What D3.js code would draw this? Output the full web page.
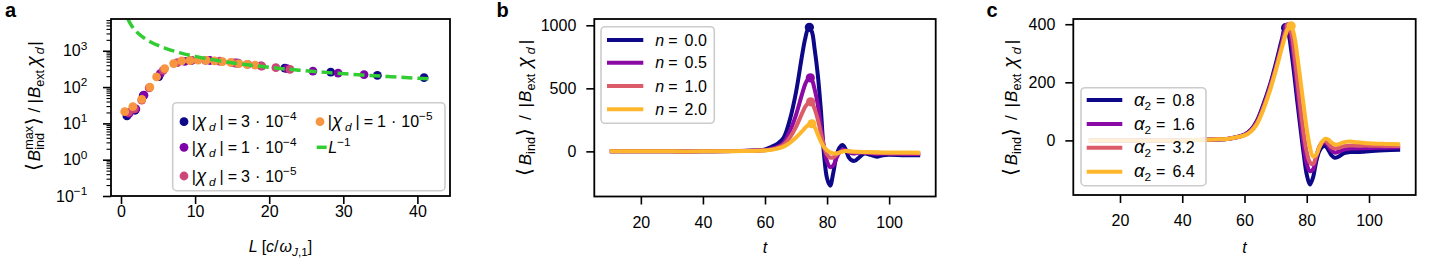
<!DOCTYPE html>
<html>
<head>
<meta charset="utf-8">
<script src="https://cdn.jsdelivr.net/npm/d3@7"></script>
<style>
  body { margin: 0; background: #fff; }
  text { font-family: "Liberation Sans", Arial, Helvetica, sans-serif; fill: #000; }
</style>
</head>
<body>
<svg id="fig" width="1442" height="275"></svg>
<script>
// ---------- panel a : peak field vs L ----------
const chiMant = ['3', '1', '3', '1'];
const chiExp = ['−4', '−4', '−5', '−5'];
const chiColors = ['#0d0887', '#7e03a8', '#cc4778', '#f89540'];

const L_3e4 = [0.8, 1.9, 3.0, 5.1, 9.5, 15.8, 22.1, 28.3, 34.6, 40.9];
const B_3e4 = [16, 23, 58, 195, 545, 455, 334, 259, 210, 181];
const L_1e4 = [1.1, 2.0, 3.1, 5.3, 8.6, 12.0, 15.5, 18.9, 22.4, 25.9, 29.3, 32.8];
const B_1e4 = [19, 25, 60, 235, 510, 540, 460, 385, 322, 276, 243, 219];
const L_3e5 = [1.0, 1.8, 2.8, 3.8, 5.7, 7.6, 9.5, 11.4, 13.3, 15.2, 17.1, 19.0, 20.9, 22.8];
const B_3e5 = [20, 25, 44, 95, 290, 470, 545, 545, 515, 465, 420, 380, 342, 308];
const L_1e5 = [0.5, 1.6, 2.8, 3.9, 4.8, 5.9, 7.1, 8.2, 9.3, 10.4, 11.5, 12.6, 13.7, 14.8, 15.9, 17.0, 18.1];
const B_1e5 = [21, 29, 46, 100, 190, 324, 445, 525, 540, 550, 545, 530, 505, 475, 445, 420, 400];
const chiL = [L_3e4, L_1e4, L_3e5, L_1e5];
const chiB = [B_3e4, B_1e4, B_3e5, B_1e5];

// L^-1 guide
const guideL = [0.9, 1.0, 1.2, 1.5, 2, 2.5, 3, 4, 5, 6, 8, 10, 12, 14, 17, 20, 24, 28, 32, 36, 41.5];
const guideB = [7800, 7000, 5830, 4670, 3500, 2800, 2330, 1750, 1400, 1170, 875, 700, 583, 500, 412, 350, 292, 250, 219, 195, 169];

const xTicksA = [0, 10, 20, 30, 40];
const yExpA = [-1, 0, 1, 2, 3];

// ---------- panels b, c : time traces ----------
const tGrid = [10, 20, 30, 40, 50, 55, 60, 62, 64, 66, 68, 70, 72, 73, 74, 75, 76, 77, 78, 79,
  80, 81, 82, 83, 84, 85, 86, 87, 88, 89, 90, 92, 94, 96, 98, 100, 105, 110];

const nLabels = ['0.0', '0.5', '1.0', '2.0'];
const nColors = ['#0d0887', '#8b0aa5', '#db5c68', '#feb72d'];
const b_n00 = [0, 0, 0, 0, 2, 5, 15, 35, 60, 108, 250, 470, 770, 900, 978, 955, 810, 610, 330, -20,
  -215, -272, -170, -40, 30, 50, 15, -48, -72, -74, -55, -18, -28, -42, -30, -26, -30, -30];
const b_n05 = [0, 0, 0, 0, 2, 4, 11, 20, 36, 68, 160, 290, 460, 535, 578, 570, 490, 370, 200, 35,
  -80, -125, -112, -55, -8, 14, 8, -6, -15, -16, -12, -8, -14, -20, -18, -18, -20, -20];
const b_n10 = [0, 0, 0, 0, 2, 4, 9, 16, 28, 52, 110, 195, 305, 355, 385, 388, 335, 255, 145, 40,
  -25, -50, -48, -28, -8, 4, 5, 0, -4, -6, -6, -8, -10, -12, -13, -14, -15, -15];
const b_n20 = [0, 0, 0, 0, 1, 3, 7, 12, 22, 38, 68, 110, 160, 188, 210, 218, 192, 135, 78, 35,
  8, -8, -16, -17, -10, -2, 2, 1, -1, -3, -4, -5, -6, -7, -8, -8, -9, -10];
const bSeries = [b_n00, b_n05, b_n10, b_n20];
const bPeakT = [74.3, 74.6, 74.7, 75.1];
const bPeakV = [984, 583, 393, 219];

const aLabels = ['0.8', '1.6', '3.2', '6.4'];
const c_a08 = [0, 0, 0, 0, 3, 6, 20, 36, 68, 122, 185, 262, 348, 386, 372, 310, 225, 130, 40, -45,
  -118, -152, -128, -75, -38, -22, -20, -34, -52, -60, -57, -44, -40, -40, -39, -37, -34, -32];
const c_a16 = [0, 0, 0, 0, 3, 6, 19, 34, 64, 116, 178, 252, 336, 378, 386, 345, 262, 165, 70, -15,
  -80, -106, -100, -60, -25, -10, -8, -20, -35, -42, -40, -32, -28, -28, -27, -26, -25, -24];
const c_a32 = [0, 0, 0, 0, 3, 6, 18, 32, 60, 110, 172, 245, 326, 368, 390, 372, 300, 205, 110, 25,
  -40, -75, -82, -55, -22, -4, -2, -12, -24, -28, -26, -20, -18, -18, -18, -18, -19, -19];
const c_a64 = [0, 0, 0, 0, 3, 6, 17, 30, 56, 104, 165, 238, 318, 356, 385, 392, 360, 288, 205, 122,
  40, -22, -55, -50, -25, -4, 6, 2, -8, -14, -14, -6, -4, -6, -8, -10, -12, -13];
const cSeries = [c_a08, c_a16, c_a32, c_a64];
const cPeakT = [73.2, 73.8, 74.4, 75.0];
const cPeakV = [388, 390, 392, 394];

const tTicks = [20, 40, 60, 80, 100];
const yTicksB = [0, 500, 1000];
const yTicksC = [0, 200, 400];

const FS = 16;    // ticks and legends
const LFS = 17;   // axis labels
const svg = d3.select('#fig');

// text built from pieces: [string, kind, gapAfter]
// kinds: rm, it, gr (greek italic), sub, subit, sup, suphold (sup that a following sub stacks under), br
function richText (parent, pieces, fs) {
  const g = parent.append('g');
  let x = 0;
  let held = null;
  pieces.forEach(([s, kind, gap]) => {
    const small = /sub|sup/.test(kind);
    let size = small ? fs * 0.74 : fs;
    if (kind === 'gr') size = fs * 1.15;
    if (kind === 'br') size = fs * 1.2;
    const t = g.append('text')
      .attr('x', x)
      .attr('y', /sub/.test(kind) ? fs * 0.26 : /sup/.test(kind) ? -fs * 0.42 : 0)
      .attr('font-size', size)
      .attr('font-style', /it|gr/.test(kind) ? 'italic' : 'normal')
      .text(s);
    if (kind === 'br') t.style('font-family', '"DejaVu Sans", sans-serif').attr('font-weight', 200);
    const w = t.node().getComputedTextLength();
    if (kind === 'suphold') { held = w; return; }
    if (held !== null) { x += Math.max(w, held); held = null; } else { x += w; }
    x += gap || 0;
  });
  return { g, width: x };
}

function frame (g, box) {
  g.append('rect')
    .attr('x', box.l).attr('y', box.t)
    .attr('width', box.r - box.l).attr('height', box.b - box.t)
    .attr('fill', 'none').attr('stroke', '#000').attr('stroke-width', 1.8);
}

function clip (g, box, id) {
  g.append('clipPath').attr('id', id)
    .append('rect')
    .attr('x', box.l).attr('y', box.t)
    .attr('width', box.r - box.l).attr('height', box.b - box.t);
  return g.append('g').attr('clip-path', `url(#${id})`);
}

function styleAxis (ax, width) {
  ax.select('.domain').remove();
  ax.selectAll('line').attr('stroke', '#000').attr('stroke-width', width);
  ax.selectAll('text').attr('font-size', FS).attr('font-family', null).attr('fill', '#000');
}

function xAxis (g, scale, box, ticks, pad) {
  const ax = g.append('g')
    .attr('transform', `translate(0,${box.b})`)
    .call(d3.axisBottom(scale).tickValues(ticks).tickSize(8).tickSizeOuter(0)
      .tickPadding(pad).tickFormat(d3.format('d')));
  styleAxis(ax, 1.6);
}

function yAxis (g, scale, box, ticks) {
  const ax = g.append('g')
    .attr('transform', `translate(${box.l},0)`)
    .call(d3.axisLeft(scale).tickValues(ticks).tickSize(8).tickSizeOuter(0)
      .tickPadding(10).tickFormat(d3.format('d')));
  styleAxis(ax, 1.6);
}

function yLabel (g, pieces, x, y) {
  const rt = richText(g, pieces, LFS);
  rt.g.attr('transform', `translate(${x},${y}) rotate(-90) translate(${-rt.width / 2},0)`);
}

function xLabel (g, pieces, x, y) {
  const rt = richText(g, pieces, FS);
  rt.g.attr('transform', `translate(${x - rt.width / 2},${y})`);
}

function legendBox (g, x, y, w, h) {
  g.append('rect')
    .attr('x', x).attr('y', y).attr('width', w).attr('height', h).attr('rx', 4)
    .attr('fill', '#fff').attr('fill-opacity', 0.8)
    .attr('stroke', '#cccccc').attr('stroke-width', 1.6);
}

function panelLetter (s, x) {
  svg.append('text').attr('x', x).attr('y', 17)
    .attr('font-size', 20).attr('font-weight', 'bold').text(s);
}

// <B...> / |B_ext chi_d| ; k scales the math spacing
const bracketLabel = (extra, k) => [['⟨', 'br', 3 * k], ['B', 'it']].concat(extra, [
  ['⟩', 'br', 8 * k], ['/', 'rm', 8 * k], ['|', 'rm', 1], ['B', 'it'], ['ext', 'sub', 6 * k],
  ['χ', 'gr', 3 * k], ['d', 'subit', 3 * k], ['|', 'rm']]);

// ---------- draw panel a ----------
(function drawA () {
  const box = { l: 111, r: 450, t: 19, b: 196 };
  const g = svg.append('g');
  const x = d3.scaleLinear().domain([-1.35, 44.4]).range([box.l, box.r]);
  const y = d3.scaleLog().domain([0.1, 7500]).range([box.b, box.t]);

  const plot = clip(g, box, 'clipA');
  chiL.forEach((Ls, i) => {
    plot.append('g').selectAll('circle')
      .data(Ls.map((L, j) => [L, chiB[i][j]]))
      .join('circle')
      .attr('cx', d => x(d[0])).attr('cy', d => y(d[1]))
      .attr('r', 4.4).attr('fill', chiColors[i]);
  });
  const guide = d3.line().x(d => x(d[0])).y(d => y(d[1])).curve(d3.curveMonotoneX);
  plot.append('path')
    .attr('d', guide(guideL.map((L, j) => [L, guideB[j]])))
    .attr('fill', 'none').attr('stroke', '#32cd32')
    .attr('stroke-width', 3.5).attr('stroke-dasharray', '11,5');

  xAxis(g, x, box, xTicksA, 2);

  const minors = [];
  yExpA.forEach(e => d3.range(2, 10).forEach(m => {
    const v = m * Math.pow(10, e);
    if (v < 7500) minors.push(v);
  }));
  const minorAx = g.append('g').attr('transform', `translate(${box.l},0)`)
    .call(d3.axisLeft(y).tickValues(minors).tickSize(4.5).tickFormat(''));
  styleAxis(minorAx, 1.1);
  const majors = yExpA.map(e => Math.pow(10, e));
  const majorAx = g.append('g').attr('transform', `translate(${box.l},0)`)
    .call(d3.axisLeft(y).tickValues(majors).tickSize(8).tickFormat(''));
  styleAxis(majorAx, 1.6);
  yExpA.forEach(e => {
    const rt = richText(g, [['10', 'rm'], [String(e).replace('-', '−'), 'sup']], FS);
    rt.g.attr('transform', `translate(${box.l - 23.7 - rt.width},${y(Math.pow(10, e)) + 5.7})`);
  });

  frame(g, box);

  yLabel(g, bracketLabel([['max', 'suphold'], ['ind', 'sub', 1]], 0.55), 40, 106);
  xLabel(g, [['L', 'it', 4], ['[', 'rm'], ['c', 'it'], ['/', 'rm', 1], ['ω', 'it'],
    ['J', 'subit'], [',1', 'sub'], [']', 'rm']], (box.l + box.r) / 2, 252);

  // legend, two columns
  const lg = g.append('g');
  legendBox(lg, 172.7, 102.7, 272.3, 88);
  const rows = [121.7, 147.3, 176];
  const slots = [[184, rows[0]], [184, rows[1]], [184, rows[2]], [320, rows[0]]];
  chiMant.forEach((m, i) => {
    const [sx, sy] = slots[i];
    lg.append('circle').attr('cx', sx).attr('cy', sy).attr('r', 4.4).attr('fill', chiColors[i]);
    const rt = richText(lg, [['|', 'rm', 0.5], ['χ', 'gr', 2.5], ['d', 'subit', 4], ['|', 'rm', 4],
      ['=', 'rm', 4], [m, 'rm', 5], ['·', 'rm', 5], ['10', 'rm'], [chiExp[i], 'sup']], FS);
    rt.g.attr('transform', `translate(${sx + 7.7},${sy + 5.5})`);
  });
  lg.append('line').attr('x1', 316.7).attr('x2', 326.7).attr('y1', rows[1]).attr('y2', rows[1])
    .attr('stroke', '#32cd32').attr('stroke-width', 3.5);
  const lt = richText(lg, [['L', 'it'], ['−1', 'sup']], FS);
  lt.g.attr('transform', `translate(328.3,${rows[1] + 5.5})`);
})();

// ---------- panels b and c ----------
function drawTraces (cfg) {
  const { box, yDomain, series, colors, peakT, peakV, yTicks, id } = cfg;
  const g = svg.append('g');
  const x = d3.scaleLinear().domain([5, 115]).range([box.l, box.r]);
  const y = d3.scaleLinear().domain(yDomain).range([box.b, box.t]);
  const plot = clip(g, box, id);
  const line = d3.line().x(d => x(d[0])).y(d => y(d[1])).curve(d3.curveCatmullRom.alpha(0.5));

  series.forEach((vals, i) => {
    plot.append('path')
      .attr('d', line(tGrid.map((t, j) => [t, vals[j]])))
      .attr('fill', 'none').attr('stroke', colors[i])
      .attr('stroke-width', 4).attr('stroke-linejoin', 'round');
    plot.append('circle')
      .attr('cx', x(peakT[i])).attr('cy', y(peakV[i]))
      .attr('r', 4.6).attr('fill', colors[i]);
  });

  xAxis(g, x, box, tTicks, 12);
  yAxis(g, y, box, yTicks);
  frame(g, box);
  xLabel(g, [['t', 'it']], (box.l + box.r) / 2, 253);
  yLabel(g, bracketLabel([['ind', 'sub', 1]], 1), cfg.yLabelX, 108);

  const lg = g.append('g');
  const L = cfg.legend;
  legendBox(lg, L.x, L.y, L.w, L.h);
  cfg.labels.forEach((lab, i) => {
    const ry = L.rows[i];
    lg.append('line').attr('x1', L.hx0).attr('x2', L.hx1).attr('y1', ry).attr('y2', ry)
      .attr('stroke', colors[i]).attr('stroke-width', 4);
    const rt = richText(lg, cfg.legendPieces(lab), FS);
    rt.g.attr('transform', `translate(${L.tx},${ry + 5.5})`);
  });
}

drawTraces({
  id: 'clipB',
  box: { l: 594.3, r: 935.7, t: 19, b: 196.5 },
  yDomain: [-358, 1050],
  series: bSeries, colors: nColors, peakT: bPeakT, peakV: bPeakV,
  yTicks: yTicksB, yLabelX: 531,
  labels: nLabels,
  legendPieces: lab => [['n', 'it', 4], ['=', 'rm', 7], [lab, 'rm']],
  legend: { x: 601, y: 26.7, w: 113.3, h: 96.6, hx0: 607, hx1: 643.3, tx: 655.3,
    rows: [40, 62.7, 86, 109.3] }
});

drawTraces({
  id: 'clipC',
  box: { l: 1073.3, r: 1415.7, t: 19, b: 195 },
  yDomain: [-188, 418],
  series: cSeries, colors: nColors, peakT: cPeakT, peakV: cPeakV,
  yTicks: yTicksC, yLabelX: 1017,
  labels: aLabels,
  legendPieces: lab => [['α', 'gr'], ['2', 'sub', 5], ['=', 'rm', 7], [lab, 'rm']],
  legend: { x: 1081, y: 87.7, w: 125, h: 98, hx0: 1086.7, hx1: 1122.3, tx: 1134,
    rows: [100, 124, 147.7, 171.7] }
});

panelLetter('a', 5);
panelLetter('b', 496.5);
panelLetter('c', 986.5);
</script>
</body>
</html>
